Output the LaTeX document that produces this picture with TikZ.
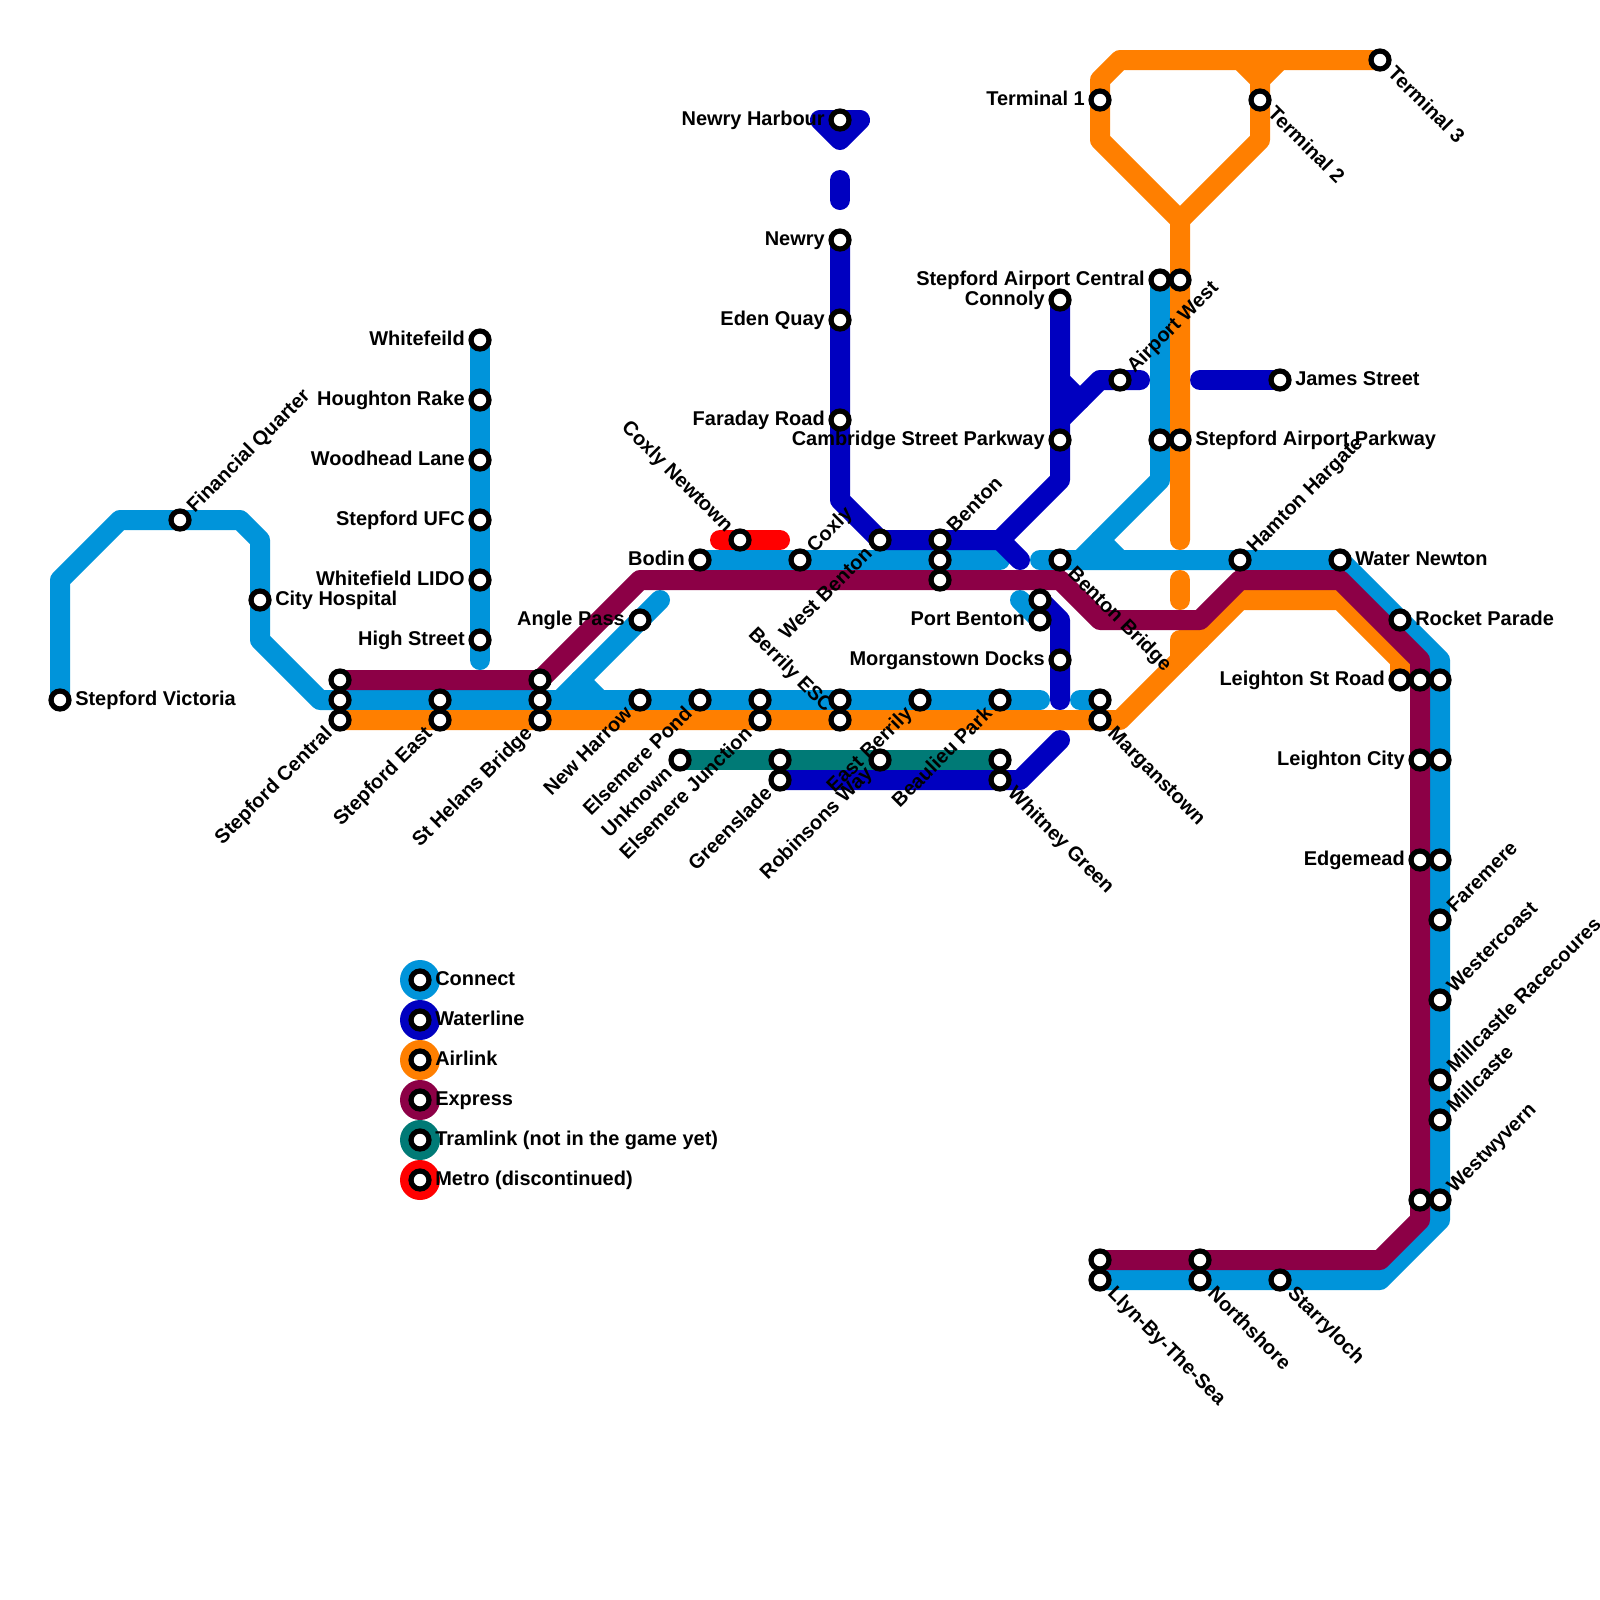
\documentclass[tikz,border=0pt]{standalone}
\usepackage{fontspec}
\setmainfont{Liberation Sans}
\usetikzlibrary{backgrounds}
\definecolor{connect}{RGB}{0,148,218}
\definecolor{waterline}{RGB}{0,0,192}
\definecolor{airlink}{RGB}{255,127,0}
\definecolor{express}{RGB}{140,0,70}
\definecolor{tramlink}{RGB}{0,122,118}
\definecolor{metro}{RGB}{255,0,0}

\begin{document}
\begin{tikzpicture}[
  x=0.5cm, y=-0.5cm,
  route/.style={line width=0.5cm, line cap=round, line join=round},
  station/.style={circle, draw=black, fill=white, line width=0.13cm,
                  minimum size=0.45cm, inner sep=0pt, outer sep=0pt},
  stntext/.style={inner sep=0pt, font=\fontsize{14.2}{16}\selectfont\bfseries,
               text height=0.72em, text depth=0.2em},
  lblr/.style={stntext, rotate=#1, xshift=0.375cm, yshift=-0.05cm, anchor=west},
  lbll/.style={stntext, rotate=#1, xshift=-0.375cm, yshift=-0.05cm, anchor=east},
  disc/.style={circle, inner sep=0pt, outer sep=0pt, minimum size=1cm}
]
\useasboundingbox (0,0) rectangle (80,80);

% stations
\foreach \n/\x/\y in {vic/3/35, fin/9/26, cit/13/30,
    whf/24/17, hou/24/20, woo/24/23, ufc/24/26, lid/24/29, hig/24/32,
    cenA/17/34, cenB/17/35, cen/17/36, easB/22/35, eas/22/36,
    helA/27/34, helB/27/35, hel/27/36,
    ang/32/31, nha/32/35, pon/35/35, junB/38/35, jun/38/36, unk/34/38,
    greA/39/38, gre/39/39, escA/42/35, esc/42/36, ebe/46/35, rob/44/38,
    bea/50/35, whiA/50/38, whi/50/39, marA/55/35, mar/55/36,
    bod/35/28, cnt/37/27, cox/40/28, wbe/44/27, ben/47/27, benB/47/28, benC/47/29,
    porA/52/30, por/52/31, doc/53/33, bbr/53/28, con/53/15, cam/53/22, aiw/56/19,
    jam/64/19, sac/58/14, sacB/59/14, spkA/58/22, spk/59/22,
    har/42/6, new/42/12, ede/42/16, fdy/42/21,
    tea/55/5, teb/63/5, tec/69/3, ham/62/28, wat/67/28, roc/70/31,
    lsr/70/34, lsrB/71/34, lsrC/72/34, lci/71/38, lciB/72/38, edg/71/43, edgB/72/43,
    far/72/46, wes/72/50, mrc/72/54, mil/72/56, wwyA/71/60, wwy/72/60,
    llyA/55/63, lly/55/64, norA/60/63, nor/60/64, sta/64/64}
  \node[station] (\n) at (\x,\y) {};

% free ends of the stubs
\foreach \n/\x/\y in {cA/52/35, cB/54/35, cC/24/33, cD/33/30, cE/50/28, cF/52/28, cG/29/34, cH/30/35,
    cI/55/27, cJ/56/28, cK/51/30, wA/41/6, wB/42/9, wC/42/10, wD/51/28, wE/50/27, wF/57/19,
    wG/53/19, wH/54/20, wI/60/19, wJ/53/35, wK/53/37, aA/59/27, aB/59/29, aC/59/30,
    aD/59/32, aE/59/33, aH/60/32, aF/62/3, aG/63/4, eA/55/63, tA/50/38, mA/36/27, mB/39/27}
  \coordinate (\n) at (\x,\y);

\begin{scope}[on background layer]
% Connect
\draw[route, connect] (vic.center) -- (3,29) -- (6,26) -- (12,26) -- (13,27) -- (13,32) -- (16,35) -- (cA);
\draw[route, connect] (cB) -- (marA.center);
\draw[route, connect] (whf.center) -- (cC);
\draw[route, connect] (cD) -- (28,35);
\draw[route, connect] (cG) -- (cH);
\draw[route, connect] (bod.center) -- (cE);
\draw[route, connect] (cF) -- (wat.center) -- (72,33) -- (72,61) -- (69,64) -- (lly.center);
\draw[route, connect] (sac.center) -- (58,24) -- (54,28);
\draw[route, connect] (cI) -- (cJ);
\draw[route, connect] (cK) -- (por.center);
% Waterline
\draw[route, waterline] (har.center) -- (43,6) -- (42,7) -- (wA) -- cycle;
\draw[route, waterline] (wB) -- (wC);
\draw[route, waterline] (new.center) -- (42,25) -- (wbe.center) -- (wE) -- (53,24) -- (con.center);
\draw[route, waterline] (wE) -- (wD);
\draw[route, waterline] (53,21) -- (55,19) -- (wF);
\draw[route, waterline] (wG) -- (wH);
\draw[route, waterline] (wI) -- (jam.center);
\draw[route, waterline] (porA.center) -- (53,31) -- (wJ);
\draw[route, waterline] (gre.center) -- (51,39) -- (wK);
% Airlink
\draw[route, airlink] (cen.center) -- (56,36) -- (62,30) -- (67,30) -- (70,33) -- (lsr.center);
\draw[route, airlink] (aA) -- (59,11) -- (55,7) -- (55,4) -- (56,3) -- (tec.center);
\draw[route, airlink] (59,11) -- (63,7) -- (63,4) -- (64,3);
\draw[route, airlink] (aF) -- (aG);
\draw[route, airlink] (aB) -- (aC);
\draw[route, airlink] (aE) -- (aD) -- (aH);
% Express
\draw[route, express] (cenA.center) -- (helA.center) -- (32,29) -- (53,29) -- (55,31) -- (60,31) -- (62,29) -- (67,29) -- (71,33) -- (71,61) -- (69,63) -- (eA);
% Tramlink
\draw[route, tramlink] (unk.center) -- (tA);
% Metro
\draw[route, metro] (mA) -- (mB);
\end{scope}

% labels
\foreach \n/\a/\t in {vic/0/Stepford Victoria, fin/45/Financial Quarter, cit/0/City Hospital,
    cox/45/Coxly, ben/45/Benton, bbr/-45/Benton Bridge, aiw/45/Airport West, jam/0/James Street,
    spk/0/Stepford Airport Parkway, teb/-45/Terminal 2, tec/-45/Terminal 3, ham/45/Hamton Hargate,
    wat/0/Water Newton, roc/0/Rocket Parade, mar/-45/Marganstown, whi/-45/Whitney Green,
    far/45/Faremere, wes/45/Westercoast, mrc/45/Millcastle Racecoures, mil/45/Millcaste,
    wwy/45/Westwyvern, lly/-45/Llyn-By-The-Sea, nor/-45/Northshore, sta/-45/Starryloch}
  \node[lblr=\a] (l\n) at (\n) {\t};
\foreach \n/\a/\t in {whf/0/Whitefeild, hou/0/Houghton Rake, woo/0/Woodhead Lane, ufc/0/Stepford UFC,
    lid/0/Whitefield LIDO, hig/0/High Street, cen/45/Stepford Central, eas/45/Stepford East,
    hel/45/St Helans Bridge, ang/0/Angle Pass, nha/45/New Harrow, pon/45/Elsemere Pond,
    unk/45/Unknown, jun/45/Elsemere Junction, gre/45/Greenslade, esc/-45/Berrily ESC,
    ebe/45/East Berrily, rob/45/Robinsons Way, bea/45/Beaulieu Park, bod/0/Bodin,
    cnt/-45/Coxly Newtown, wbe/45/West Benton, por/0/Port Benton, doc/0/Morganstown Docks,
    con/0/Connoly, cam/0/Cambridge Street Parkway, sac/0/Stepford Airport Central,
    har/0/Newry Harbour, new/0/Newry, ede/0/Eden Quay, fdy/0/Faraday Road, tea/0/Terminal 1,
    lsr/0/Leighton St Road, lci/0/Leighton City, edg/0/Edgemead}
  \node[lbll=\a] (l\n) at (\n) {\t};

% legend
\foreach \y/\c/\t in {49/connect/Connect, 51/waterline/Waterline, 53/airlink/Airlink,
    55/express/Express, 57/tramlink/Tramlink (not in the game yet), 59/metro/Metro (discontinued)} {
  \node[disc, fill=\c] (d\y) at (21,\y) {};
  \node[station] (k\y) at (21,\y) {};
  \node[lblr=0] (t\y) at (k\y) {\t};
}
\end{tikzpicture}
\end{document}
